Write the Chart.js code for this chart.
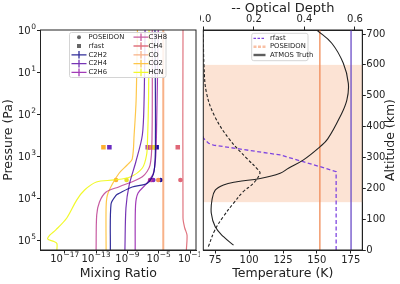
<!DOCTYPE html>
<html>
<head>
<meta charset="utf-8">
<script src="https://cdn.jsdelivr.net/npm/chart.js@4.4.1/dist/chart.umd.min.js"></script>
<style>
  html, body { margin: 0; padding: 0; background: #fff; }
  #wrap { position: relative; width: 400px; height: 284px; overflow: hidden; }
  canvas { position: absolute; top: 0; }
  #left { left: 0; }
  #right { left: 200px; }
</style>
</head>
<body>
<div id="wrap">
  <canvas id="left" width="200" height="284"></canvas>
  <canvas id="right" width="200" height="284"></canvas>
</div>
<script>
// ---- left panel: mixing ratio profiles ----
const species = ['C2H2', 'C2H4', 'C2H6', 'C3H8', 'CH4', 'CO', 'CO2', 'HCN'];

const pC2H2 = [1, 316, 2370, 4470, 5470, 7730, 8630, 13900, 173000];
const xC2H2 = [3.3e-6, 3.8e-6, 2.5e-6, 3.5e-7, 4.1e-9, 9.1e-11, 3.5e-11, 8.1e-12, 6.6e-12];
const pC2H4 = [1, 46, 316, 1370, 4900, 17300, 173000];
const xC2H4 = [1.8e-7, 1.35e-7, 8.1e-8, 1.2e-8, 1.7e-9, 6.5e-10, 4.8e-10];
const pC2H6 = [1, 316, 1250, 2680, 4770, 7600, 14700, 173000];
const xC2H6 = [8.7e-6, 5.1e-6, 3.8e-6, 1.9e-6, 2.2e-7, 2.3e-8, 1.1e-8, 9.8e-9];
const pC3H8 = [1, 316, 1640, 3110, 5380, 7200, 12400, 25400, 173000];
const xC3H8 = [1.5e-6, 1.4e-6, 7.8e-7, 8.1e-8, 9.1e-11, 1.9e-12, 2.7e-13, 1.2e-13, 1.0e-13];
const pCH4 = [1, 29900, 51800, 76000, 173000];
const xCH4 = [1.26e-2, 1.26e-2, 2.1e-2, 4.1e-2, 3.4e-2];
const pCO = [1, 173000];
const xCO = [3.8e-5, 3.8e-5];
const pCO2 = [1, 46, 316, 1180, 1640, 2540, 4640, 8480, 16400, 173000];
const xCO2 = [1.9e-8, 1.3e-8, 7.2e-9, 4.1e-9, 9.3e-10, 9.1e-11, 1.2e-11, 2.8e-12, 1.9e-12, 1.9e-12];
const pHCN = [1, 46, 417, 946, 1930, 3160, 3720, 4160, 6460, 11200, 29900, 57500, 75900, 94600, 108600, 121000, 173000];
const xHCN = [5.8e-7, 5.0e-7, 3.7e-7, 2.8e-7, 8.1e-8, 2.2e-9, 2.1e-11, 1.1e-13, 3.4e-15, 3.3e-16, 1.8e-17, 7.2e-19, 1.3e-19, 6.5e-20, 4.1e-19, 9.8e-19, 9.8e-19];

// retrieved values, same order as species
const rfastPressure = 617;
const rfastMix = [5.4e-6, 5.0e-12, 4.0e-7, 5.8e-7, 2.7e-3, 1.2e-6, 8.7e-13, 2.5e-6];
const poseidonPressure = 3720;
const poseidonMix = [1.66e-5, 2.0e-6, 1.26e-6, 7.8e-7, 5.9e-3, 8.7e-6, 3.5e-11, 7.8e-10];

const mixTicks = [1e-17, 1e-13, 1e-9, 1e-5, 1e-1];
const pressureTicks = [1, 10, 100, 1000, 10000, 100000];

// ---- right panel: temperature / optical depth ----
const atmosAlt = [16, 43, 75, 119, 162, 194, 211, 221, 232, 249, 265, 292, 335, 360, 432, 486, 540, 605, 670, 713];
const atmosT = [88.5, 81.1, 75, 72.1, 72.6, 75, 81.1, 91.0, 108.2, 122.9, 129.0, 140.1, 152.4, 158, 167.1, 172.1, 173.2, 169.5, 161.0, 149.9];
const tauAlt = [11, 65, 108, 151, 189, 216, 248, 259, 297, 356, 432, 508, 594, 713];
const tauVals = [0.020, 0.046, 0.079, 0.119, 0.158, 0.198, 0.224, 0.218, 0.172, 0.106, 0.046, 0.013, 0.003, 0.0];
const rfastAlt = [0, 254, 270, 308, 340, 346, 362, 420];
const rfastT = [164.2, 164.2, 152.4, 122.9, 73.7, 70.1, 66.4, 63];
const poseidonIsoT = 152.2;
const purpleIsoT = 175.2;
const cloudBand = [155, 600];

const tempTicks = [75, 100, 125, 150, 175];
const tauTicks = [0, 0.2, 0.4, 0.6];
const altTicks = [0, 100, 200, 300, 400, 500, 600, 700];

// ---- styling ----
const ink = '#222';
const FONT = 'DejaVu Sans';
const tickFont = { family: FONT, size: 10 };
const titleFont = { family: FONT, size: 12.5 };
const lineColors = ['rgba(13,8,135,0.85)', 'rgba(84,2,163,0.8)', 'rgba(139,10,165,0.8)', 'rgba(185,50,137,0.8)',
  'rgba(219,92,104,0.85)', 'rgba(244,136,73,0.65)', 'rgba(254,189,42,0.85)', 'rgba(240,249,33,0.95)'];
const markColors = ['#1a10a0', '#6a2cc0', '#9a22b0', '#c04a98', '#e06878', '#f59050', '#fdb030', '#e8e030'];

function pts(xs, ys) { return xs.map((x, i) => ({ x: x, y: ys[i] })); }
function fixBox(w, h) {
  return s => {
    if (w != null) s.width = w;
    if (h != null) s.height = h;
    s.paddingLeft = 0; s.paddingRight = 0; s.paddingTop = 0; s.paddingBottom = 0;
  };
}
function setTicks(list) { return s => { s.ticks = list.map(v => ({ value: v })); }; }
const tickGrid = { display: true, drawOnChartArea: false, drawTicks: true, tickLength: 3.5, color: ink };

// "10" with a raised exponent, like matplotlib mathtext
function drawPow(c, v, x, base, align) {
  const e = String(Math.round(Math.log10(v))).replace('-', '\u2212');
  c.font = '10px ' + FONT;
  const wb = c.measureText('10').width;
  c.font = '7.5px ' + FONT;
  const we = c.measureText(e).width;
  const w = wb + 0.5 + we;
  const x0 = align === 'center' ? x - w / 2 : x - w;
  c.textAlign = 'left';
  c.textBaseline = 'alphabetic';
  c.font = '10px ' + FONT;
  c.fillText('10', x0, base);
  c.font = '7.5px ' + FONT;
  c.fillText(e, x0 + wb + 0.5, base - 5);
}

const logLabels = {
  id: 'logLabels',
  afterDraw(chart) {
    const c = chart.ctx, xs = chart.scales.x, ys = chart.scales.y;
    c.save();
    c.fillStyle = ink;
    mixTicks.forEach(v => drawPow(c, v, xs.getPixelForValue(v), 262, 'center'));
    pressureTicks.forEach(v => drawPow(c, v, 36, ys.getPixelForValue(v) + 4, 'right'));
    c.restore();
  }
};

const frame = {
  id: 'frame',
  afterDraw(chart) {
    const a = chart.chartArea, c = chart.ctx;
    c.save();
    c.strokeStyle = ink; c.lineWidth = 1;
    c.strokeRect(a.left, a.top, a.right - a.left, a.bottom - a.top);
    c.restore();
  }
};

function legendBox(c, x, y, w, h) {
  c.fillStyle = 'rgba(255,255,255,0.85)';
  c.strokeStyle = '#d4d4d4';
  c.lineWidth = 1;
  c.beginPath();
  c.roundRect(x, y, w, h, 2);
  c.fill(); c.stroke();
}

const leftLegend = {
  id: 'leftLegend',
  afterDraw(chart) {
    const c = chart.ctx;
    c.save();
    legendBox(c, 69.5, 32.5, 96.5, 45);
    c.font = '6.8px ' + FONT;
    c.textBaseline = 'middle';
    c.fillStyle = ink;
    const rows = [37.2, 46, 54.8, 63.6, 72.4];
    const items = [{ t: 'POSEIDON', k: 'circle' }, { t: 'rfast', k: 'rect' }]
      .concat(species.map((s, i) => ({ t: s, k: 'bar', i: i })));
    items.forEach((it, n) => {
      const col = n < 5 ? 0 : 1;
      const y = rows[n % 5];
      const hx = col === 0 ? 79 : 141;
      const tx = col === 0 ? 88.5 : 148.5;
      if (it.k === 'circle') {
        c.fillStyle = '#666'; c.beginPath(); c.arc(hx, y, 2, 0, Math.PI * 2); c.fill();
      } else if (it.k === 'rect') {
        c.fillStyle = '#666'; c.fillRect(hx - 2, y - 2, 4, 4);
      } else {
        c.strokeStyle = lineColors[it.i]; c.lineWidth = 1.3;
        c.beginPath();
        c.moveTo(hx - 7.5, y); c.lineTo(hx + 7.5, y);
        c.moveTo(hx, y - 3.8); c.lineTo(hx, y + 3.8);
        c.stroke();
      }
      c.fillStyle = ink;
      c.fillText(it.t, tx, y);
    });
    c.restore();
  }
};

const leftSets = species.map((name, i) => {
  const prof = [[xC2H2, pC2H2], [xC2H4, pC2H4], [xC2H6, pC2H6], [xC3H8, pC3H8],
    [xCH4, pCH4], [xCO, pCO], [xCO2, pCO2], [xHCN, pHCN]][i];
  return {
    label: name, data: pts(prof[0], prof[1]), showLine: true, fill: false,
    borderColor: lineColors[i], borderWidth: name === 'CO' ? 2 : 1.2,
    pointRadius: 0, tension: 0.3
  };
});
leftSets.push({
  label: 'rfast', data: rfastMix.map(v => ({ x: v, y: rfastPressure })),
  pointStyle: 'rect', pointRadius: 3.2, pointBorderWidth: 0, pointBackgroundColor: markColors
});
leftSets.push({
  label: 'POSEIDON', data: poseidonMix.map(v => ({ x: v, y: poseidonPressure })),
  pointStyle: 'circle', pointRadius: 2.3, pointBorderWidth: 0, pointBackgroundColor: markColors
});

new Chart(document.getElementById('left'), {
  type: 'scatter',
  data: { datasets: leftSets },
  options: {
    responsive: false, animation: false, devicePixelRatio: 1,
    layout: { padding: { left: 0, right: 3, top: 30, bottom: 0 } },
    plugins: { legend: { display: false }, tooltip: { enabled: false } },
    scales: {
      x: {
        type: 'logarithmic', position: 'bottom', min: Math.pow(10, -20.1), max: Math.pow(10, -0.24),
        grid: tickGrid, border: { display: true, color: ink },
        ticks: { display: false },
        afterBuildTicks: setTicks(mixTicks),
        afterFit: fixBox(null, 34),
        title: { display: true, text: 'Mixing Ratio', font: titleFont, color: ink, padding: { top: 0, bottom: 3 } }
      },
      y: {
        type: 'logarithmic', position: 'left', reverse: true, min: 1, max: 173000,
        grid: tickGrid, border: { display: true, color: ink },
        ticks: { display: false },
        afterBuildTicks: setTicks(pressureTicks),
        afterFit: fixBox(40.5, null),
        title: { display: true, text: 'Pressure (Pa)', font: titleFont, color: ink, padding: { top: 1, bottom: 0 } }
      }
    }
  },
  plugins: [frame, leftLegend, logLabels]
});

// ---- right chart ----
const band = {
  id: 'band',
  beforeDatasetsDraw(chart) {
    const a = chart.chartArea, y = chart.scales.y, c = chart.ctx;
    const y0 = y.getPixelForValue(cloudBand[1]), y1 = y.getPixelForValue(cloudBand[0]);
    c.save();
    c.fillStyle = '#fce3d4';
    c.fillRect(a.left, y0, a.right - a.left, y1 - y0);
    c.restore();
  }
};

const rightExtras = {
  id: 'rightExtras',
  afterDraw(chart) {
    const c = chart.ctx;
    c.save();
    // rotated right-hand axis title
    c.translate(190.5, (chart.chartArea.top + chart.chartArea.bottom) / 2);
    c.rotate(-Math.PI / 2);
    c.font = '12.5px ' + FONT;
    c.fillStyle = ink; c.textAlign = 'center'; c.textBaseline = 'middle';
    c.fillText('Altitude (km)', 0, 0);
    c.restore();

    c.save();
    legendBox(c, 51.7, 33.3, 56.3, 27.4);
    c.font = '6.8px ' + FONT;
    c.textBaseline = 'middle';
    const rows = [38.3, 46.7, 55];
    const items = [
      { t: 'rfast', col: '#7f45e0', w: 1.2, dash: [2.5, 1.5] },
      { t: 'POSEIDON', col: 'rgba(244,140,90,0.55)', w: 2.6, dash: [3, 1.5] },
      { t: 'ATMOS Truth', col: 'rgba(40,40,40,0.75)', w: 2.4, dash: [] }
    ];
    items.forEach((it, n) => {
      c.strokeStyle = it.col; c.lineWidth = it.w; c.setLineDash(it.dash);
      c.beginPath(); c.moveTo(53.5, rows[n]); c.lineTo(65.5, rows[n]); c.stroke();
      c.setLineDash([]);
      c.fillStyle = ink;
      c.fillText(it.t, 70, rows[n]);
    });
    c.restore();
  }
};

new Chart(document.getElementById('right'), {
  type: 'scatter',
  data: {
    datasets: [
      { label: 'Optical depth', data: pts(tauVals, tauAlt), xAxisID: 'x2', showLine: true, fill: false,
        borderColor: '#222', borderWidth: 1.1, borderDash: [3, 2], pointRadius: 0, tension: 0.4 },
      { label: 'ATMOS Truth', data: pts(atmosT, atmosAlt), xAxisID: 'x', showLine: true, fill: false,
        borderColor: '#222', borderWidth: 1.1, pointRadius: 0, tension: 0.4 },
      { label: 'rfast', data: pts(rfastT, rfastAlt), xAxisID: 'x', showLine: true, fill: false,
        borderColor: '#7f45e0', borderWidth: 1.3, borderDash: [4, 2.5], pointRadius: 0, tension: 0 },
      { label: 'POSEIDON', data: pts([poseidonIsoT, poseidonIsoT], [0, 713]), xAxisID: 'x', showLine: true,
        borderColor: '#f08a55', borderWidth: 1.3, pointRadius: 0 },
      { label: 'rfast iso', data: pts([purpleIsoT, purpleIsoT], [0, 713]), xAxisID: 'x', showLine: true,
        borderColor: '#6a4cc8', borderWidth: 1.3, pointRadius: 0 }
    ]
  },
  options: {
    responsive: false, animation: false, devicePixelRatio: 1,
    layout: { padding: { left: 3.3, right: 0, top: 0, bottom: 0 } },
    plugins: { legend: { display: false }, tooltip: { enabled: false } },
    scales: {
      x: {
        type: 'linear', position: 'bottom', min: 66.2, max: 183.5,
        grid: tickGrid, border: { display: true, color: ink },
        ticks: { font: tickFont, color: ink, padding: 1, maxRotation: 0, autoSkip: false },
        afterBuildTicks: setTicks(tempTicks),
        afterFit: fixBox(null, 34),
        title: { display: true, text: 'Temperature (K)', font: titleFont, color: ink, padding: { top: 0, bottom: 3 } }
      },
      x2: {
        type: 'linear', position: 'top', min: 0, max: 0.629,
        grid: tickGrid, border: { display: true, color: ink },
        ticks: { font: tickFont, color: ink, padding: 1, maxRotation: 0, autoSkip: false, callback: v => v.toFixed(1) },
        afterBuildTicks: setTicks(tauTicks),
        afterFit: fixBox(null, 30),
        title: { display: true, text: '-- Optical Depth', font: { family: FONT, size: 13 }, color: ink, padding: { top: 1, bottom: 0 } }
      },
      y: {
        type: 'linear', position: 'right', min: 0, max: 713,
        grid: tickGrid, border: { display: true, color: ink },
        ticks: { font: tickFont, color: ink, padding: 0.5, autoSkip: false },
        afterBuildTicks: setTicks(altTicks),
        afterFit: fixBox(37.7, null)
      }
    }
  },
  plugins: [band, frame, rightExtras]
});
</script>
</body>
</html>
